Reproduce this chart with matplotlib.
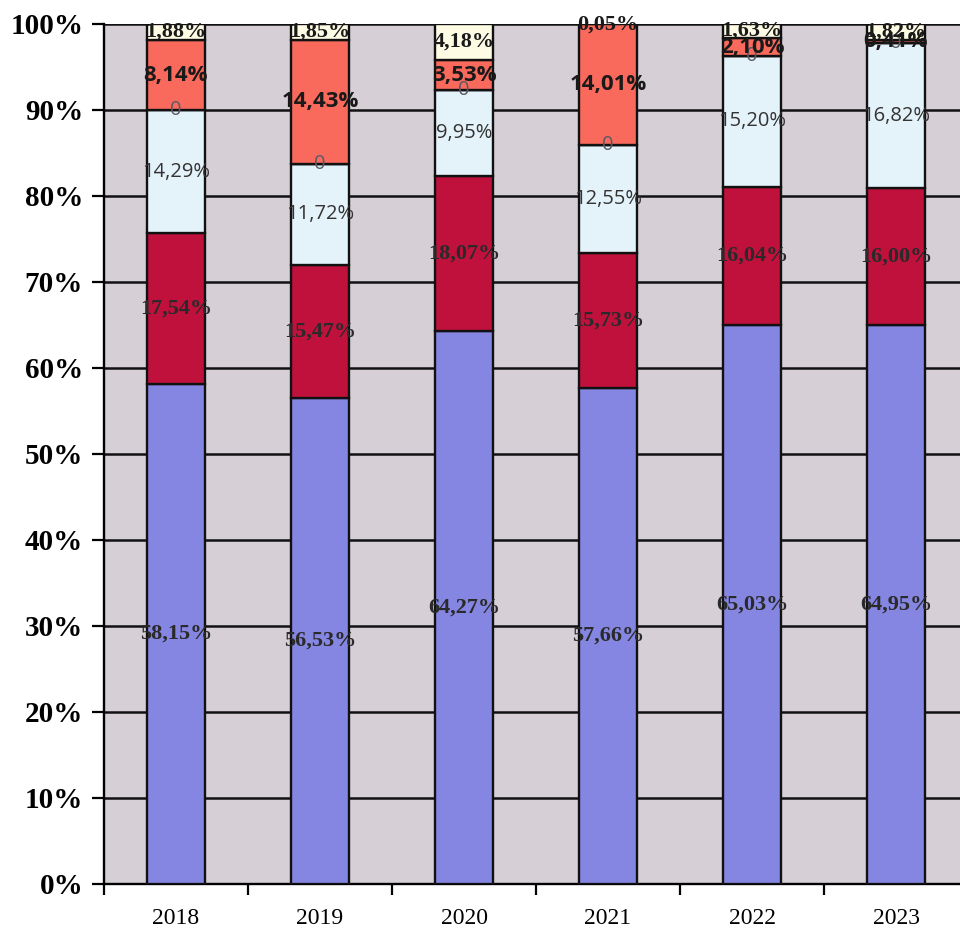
import numpy as np
import matplotlib
matplotlib.use("Agg")
import matplotlib.pyplot as plt

years = ["2018", "2019", "2020", "2021", "2022", "2023"]

# series from bottom to top
s_blue = [58.15, 56.53, 64.27, 57.66, 65.03, 64.95]
s_red = [17.54, 15.47, 18.07, 15.73, 16.04, 16.00]
s_light = [14.29, 11.72, 9.95, 12.55, 15.20, 16.82]
s_zero = [0, 0, 0, 0, 0, 0]
s_salmon = [8.14, 14.43, 3.53, 14.01, 2.10, 0.41]
s_cream = [1.88, 1.85, 4.18, 0.05, 1.63, 1.82]

series = [s_blue, s_red, s_light, s_zero, s_salmon, s_cream]
colors = ["#8585e2", "#c0103c", "#e4f2fa", "#ffffff", "#fa6a5c", "#fdfbe4"]
label_styles = [
    dict(family="Liberation Serif", weight="bold", size=16, color="#2a2a2a"),
    dict(family="Liberation Serif", weight="bold", size=16, color="#2a2a2a"),
    dict(family="Open Sans", weight="normal", size=14.5, color="#333333"),
    dict(family="Open Sans", weight="normal", size=14.5, color="#5a5a66"),
    dict(family="Open Sans", weight="bold", size=16, color="#1a1a1a"),
    dict(family="Liberation Serif", weight="bold", size=16, color="#1a1a1a"),
]


def fmt(v):
    if v == 0:
        return "0"
    return f"{v:.2f}".replace(".", ",") + "%"


fig = plt.figure(figsize=(9.6, 9.31), dpi=100)
# plot area runs past the right edge of the picture, as in the reference
ax = fig.add_axes([104 / 960, 47 / 931, 864 / 960, 860 / 931])
ax.set_facecolor("#d6d0d6")

x = np.arange(len(years))
bottom = np.zeros(len(years))
for vals, col, st in zip(series, colors, label_styles):
    vals = np.array(vals)
    ax.bar(x, vals, width=0.405, bottom=bottom, color=col,
           edgecolor="#111111", linewidth=1.7, zorder=3)
    for xi, b, v in zip(x, bottom, vals):
        ax.text(xi, b + v / 2, fmt(v), ha="center", va="center", zorder=5, **st)
    bottom += vals

ax.set_xlim(-0.5, 5.5)
ax.set_ylim(0, 100)
ax.set_yticks(np.arange(0, 101, 10))
ax.set_yticklabels([f"{t}%" for t in range(0, 101, 10)],
                   fontfamily="Liberation Serif", fontweight="bold", fontsize=21)
ax.yaxis.grid(True, color="#111111", linewidth=1.8, zorder=1)
ax.set_axisbelow(True)

ax.set_xticks(x)
ax.set_xticklabels(years, fontfamily="Liberation Serif", fontsize=17)
ax.set_xticks(np.arange(-0.5, 5.5, 1), minor=True)
ax.tick_params(axis="x", which="major", length=0, pad=17)
ax.tick_params(axis="x", which="minor", length=8, width=1.6, direction="out")
ax.tick_params(axis="y", length=9, width=1.6, direction="out", pad=6)

for side in ["top", "right"]:
    ax.spines[side].set_visible(False)
ax.spines["left"].set_linewidth(1.7)
ax.spines["bottom"].set_linewidth(1.7)

fig.savefig("out.png", dpi=100)
